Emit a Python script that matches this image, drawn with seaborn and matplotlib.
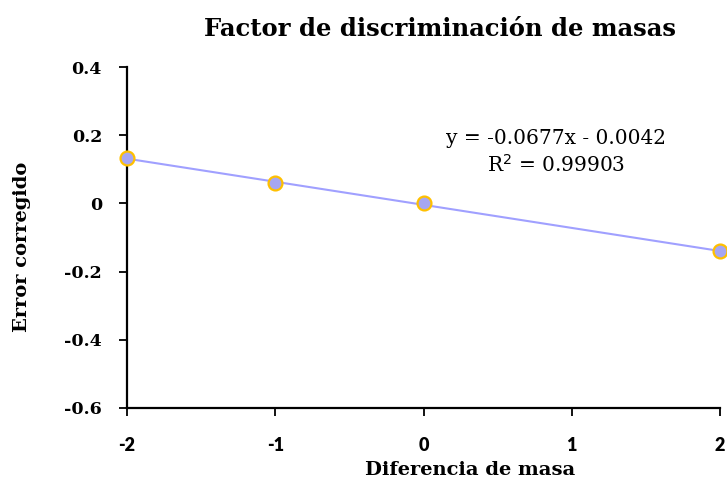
import numpy as np
import pandas as pd
import matplotlib
matplotlib.use("Agg")
import matplotlib.pyplot as plt
import seaborn as sns

# Data
diferencia = [-2, -1, 0, 2]
error = [0.134, 0.060, 0.000, -0.140]
slope = -0.0677
intercept = -0.0042
r2_text = "0.99903"
x_ticks = [-2, -1, 0, 1, 2]
y_ticks = [-0.6, -0.4, -0.2, 0, 0.2, 0.4]
y_tick_labels = ["-0.6", "-0.4", "-0.2", "0", "0.2", "0.4"]

df = pd.DataFrame({"x": diferencia, "y": error})

sns.set_theme(style="ticks")
plt.rcParams["font.family"] = ["DejaVu Serif"]
plt.rcParams["text.color"] = "black"
plt.rcParams["axes.labelcolor"] = "black"
plt.rcParams["xtick.color"] = "black"
plt.rcParams["ytick.color"] = "black"

W, H = 727, 483
fig = plt.figure(figsize=(W / 100, H / 100), dpi=100)
ax_l, ax_r, ax_t, ax_b = 127, 720, 67, 408
ax = fig.add_axes([ax_l / W, 1 - ax_b / H, (ax_r - ax_l) / W, (ax_b - ax_t) / H])

# Trendline from equation
xl = np.array([min(x_ticks), max(x_ticks)])
ax.plot(xl, slope * xl + intercept, color="#A0A0FF", lw=1.5, zorder=2, clip_on=False)

sns.scatterplot(data=df, x="x", y="y", ax=ax, s=100, color="#A6A6F2",
                edgecolor="#FFC000", linewidth=1.6, zorder=3, clip_on=False)

ax.set_xlim(-2, 2)
ax.set_ylim(-0.6, 0.4)
ax.set_xticks(x_ticks)
ax.set_xticklabels([str(v) for v in x_ticks])
ax.set_yticks(y_ticks)
ax.set_yticklabels(y_tick_labels)

for lbl in ax.get_xticklabels():
    lbl.set_fontfamily("Lato")
    lbl.set_fontweight("heavy")
    lbl.set_fontsize(13)
for lbl in ax.get_yticklabels():
    lbl.set_fontfamily("DejaVu Serif")
    lbl.set_fontweight("bold")
    lbl.set_fontsize(12.5)

ax.tick_params(axis="both", direction="out", length=6, width=1.3, color="black")
ax.tick_params(axis="x", pad=15)
ax.tick_params(axis="y", pad=12)
for s in ["top", "right"]:
    ax.spines[s].set_visible(False)
for s in ["left", "bottom"]:
    ax.spines[s].set_color("black")
    ax.spines[s].set_linewidth(1.6)

ax.set_xlabel("")
ax.set_ylabel("")
fig.text(470 / W, 1 - 470 / H, "Diferencia de masa", fontsize=14, fontweight="bold",
         ha="center", va="center")
fig.text(22 / W, 1 - 247 / H, "Error corregido", fontsize=14, fontweight="bold",
         ha="center", va="center", rotation=90)

fig.text(440 / W, 1 - 29 / H, "Factor de discriminación de masas", fontsize=17.5,
         fontweight="bold", ha="center", va="center")

ax.text(0.897, 0.15, f"y = {slope}x - {abs(intercept)}\nR$^2$ = {r2_text}",
        fontsize=14.5, ha="center", va="center", linespacing=1.35,
        transform=ax.transData)

fig.savefig("out.png", dpi=100)
